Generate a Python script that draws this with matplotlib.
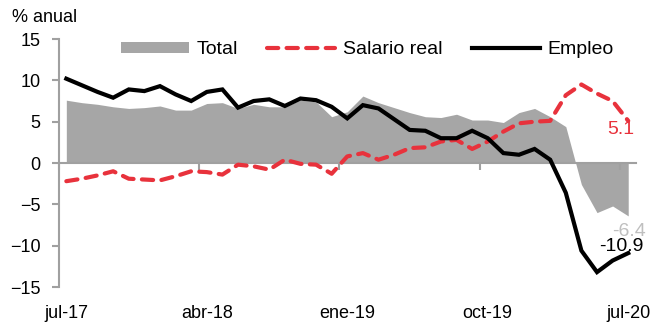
import matplotlib
matplotlib.use("Agg")
import matplotlib.pyplot as plt
from matplotlib.patches import Patch
from matplotlib.lines import Line2D

plt.rcParams['font.family'] = ['Liberation Sans Narrow', 'Liberation Sans', 'DejaVu Sans']

# monthly series, jul-17 .. jul-20 (% anual)
tick_labels = ['jul-17', 'abr-18', 'ene-19', 'oct-19', 'jul-20']
total = [7.6, 7.3, 7.1, 6.8, 6.6, 6.7, 6.9, 6.4, 6.4, 7.2, 7.3, 6.6, 7.1, 6.8,
         6.8, 7.6, 7.4, 5.6, 6.2, 8.1, 7.3, 6.7, 6.1, 5.6, 5.5, 5.9, 5.2, 5.2,
         4.9, 6.1, 6.6, 5.6, 4.4, -2.6, -6.0, -5.2, -6.4]
salario_real = [-2.2, -1.9, -1.5, -1.0, -1.9, -2.0, -2.1, -1.6, -1.0, -1.1, -1.4,
                -0.2, -0.4, -0.8, 0.4, -0.1, -0.2, -1.3, 0.8, 1.2, 0.4, 1.0, 1.8,
                1.9, 2.6, 2.8, 1.7, 2.6, 3.8, 4.8, 5.0, 5.1, 8.2, 9.5, 8.4, 7.5, 5.1]
empleo = [10.2, 9.4, 8.6, 7.9, 8.9, 8.7, 9.3, 8.3, 7.5, 8.6, 8.9, 6.7, 7.5, 7.7,
          6.9, 7.8, 7.6, 6.8, 5.4, 7.0, 6.6, 5.3, 4.0, 3.9, 3.0, 3.0, 3.9, 3.0,
          1.2, 1.0, 1.7, 0.4, -3.6, -10.6, -13.2, -11.8, -10.9]

n = len(empleo)
x = list(range(n))
label_step = 9

gray = '#A6A6A6'
axis_gray = '#A0A0A0'
red = '#E8323C'
lw = 3.0
dash = (2.7, 2.0)

fig = plt.figure(figsize=(6.51, 3.27), dpi=100)
ax = fig.add_axes([0.0899, 0.1223, 0.8871, 0.7584])

ax.fill_between(x, total, 0, color=gray, linewidth=0, zorder=1)
ax.plot(x, salario_real, color=red, lw=lw, dashes=dash,
        dash_capstyle='round', zorder=3)
ax.plot(x, empleo, color='black', lw=lw, solid_joinstyle='miter', zorder=4)

ax.set_xlim(-0.5, n - 0.5)
ax.set_ylim(-15, 15)
ax.set_yticks(range(-15, 16, 5))

for side in ['top', 'right']:
    ax.spines[side].set_visible(False)
for side in ['left', 'bottom']:
    ax.spines[side].set_color(axis_gray)
    ax.spines[side].set_linewidth(1.5)
ax.spines['bottom'].set_position(('data', 0))
ax.spines['bottom'].set_zorder(2)

# tick marks on the zero line sit between categories
ax.set_xticks([i - 0.5 for i in range(0, n, label_step)])
ax.tick_params(axis='x', length=5, width=1.5, color=axis_gray, labelbottom=False)
ax.tick_params(axis='y', length=5, width=1.5, color=axis_gray, labelsize=13, pad=8)

# category labels along the bottom edge
sec = ax.secondary_xaxis('bottom')
sec.set_xticks(range(0, n, label_step))
sec.set_xticklabels(tick_labels)
sec.tick_params(length=0, labelsize=13, pad=13)
sec.spines['bottom'].set_visible(False)

fig.text(0.018, 0.948, '% anual', fontsize=13, va='center', ha='left')

handles = [Patch(facecolor=gray, edgecolor='none'),
           Line2D([], [], color=red, lw=lw, dashes=dash, dash_capstyle='round'),
           Line2D([], [], color='black', lw=lw)]
ax.legend(handles, ['Total', 'Salario real', 'Empleo'], ncol=3, frameon=False,
          fontsize=14, loc='center', bbox_to_anchor=(0.535, 0.956),
          handlelength=3.5, handleheight=0.45, handletextpad=0.4,
          columnspacing=1.5)

last = n - 1
ax.annotate(f'{salario_real[-1]:.1f}', (last, salario_real[-1]), xytext=(-5, -6),
            textcoords='offset points', ha='center', va='center',
            fontsize=14, color=red)
ax.annotate(f'{total[-1]:.1f}', (last, total[-1]), xytext=(0.5, -11),
            textcoords='offset points', ha='center', va='center',
            fontsize=14, color='#BFBFBF')
ax.annotate(f'{empleo[-1]:.1f}', (last, empleo[-1]), xytext=(-5, 4.5),
            textcoords='offset points', ha='center', va='center',
            fontsize=14, color='black')

fig.savefig('out.png', dpi=100)
